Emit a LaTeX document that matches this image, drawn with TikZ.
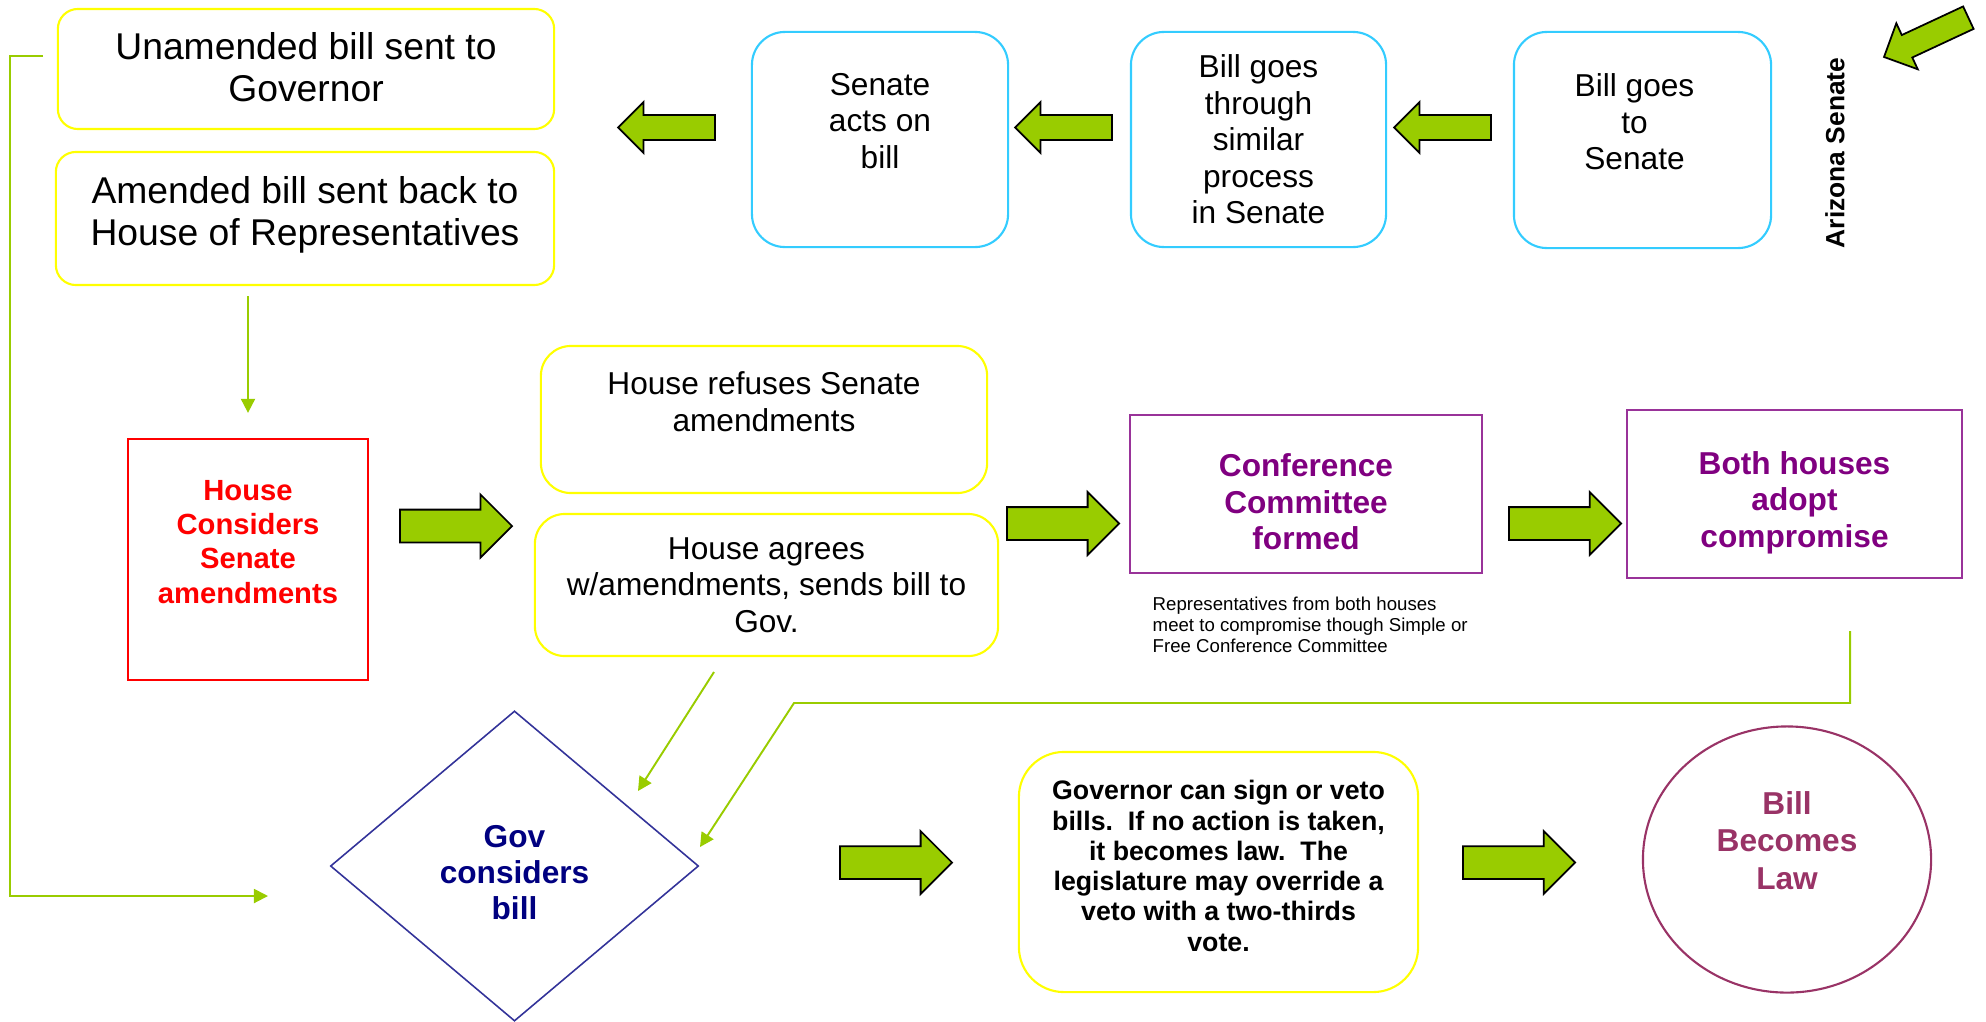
\documentclass[tikz,border=0pt]{standalone}
\usepackage{fontspec}
\setmainfont{Liberation Sans}
\usepackage{tikz}
\usepackage{xcolor}
\usetikzlibrary{arrows.meta,shapes.geometric,shapes.arrows}
\definecolor{lawgreen}{HTML}{99CC00}
\definecolor{boxyellow}{HTML}{FFFF00}
\definecolor{senblue}{HTML}{33CCFF}
\definecolor{confpurple}{HTML}{993399}
\definecolor{confword}{HTML}{800080}
\definecolor{govnavy}{HTML}{333399}
\definecolor{govword}{HTML}{000080}
\definecolor{lawplum}{HTML}{993366}
\tikzset{
  ybox/.style={draw=boxyellow,line width=0.6pt,rounded corners=0.3cm,inner sep=0pt},
  sbox/.style={draw=senblue,line width=0.6pt,rounded corners=0.33cm,inner sep=0pt},
  pbox/.style={draw=confpurple,line width=0.6pt,inner sep=0pt},
  link/.style={draw=lawgreen,line width=0.55pt,-{Triangle[length=0.14cm,width=0.14cm]}},
  garrow/.style={single arrow,draw=black,fill=lawgreen,line width=0.5pt,inner xsep=0pt,inner ysep=0.115cm,single arrow head extend=0.13cm,minimum height=0.97cm,outer sep=0pt,anchor=tip},
  bigarrow/.style={garrow,inner ysep=0.155cm,single arrow head extend=0.15cm,minimum height=1.12cm},
  bigtxt/.style={font=\fontsize{10.6}{12}\selectfont,align=center},
  midtxt/.style={font=\fontsize{9}{10.4}\selectfont,align=center},
  redtxt/.style={text=red,font=\bfseries\fontsize{8.3}{9.7}\selectfont,align=center},
  conftxt/.style={text=confword,font=\bfseries\fontsize{9}{10.4}\selectfont,align=center},
  govtxt/.style={font=\bfseries\fontsize{7.6}{8.6}\selectfont,align=center},
  lawtxt/.style={text=lawplum,font=\bfseries\fontsize{9}{10.7}\selectfont,align=center}
}

\begin{document}
\begin{tikzpicture}[x=0.01cm,y=-0.01cm]
\path[use as bounding box] (0,0) rectangle (1986,1021);
% Senate row
\node[ybox,rounded corners=0.2cm,minimum width=4.96cm,minimum height=1.2cm,label={[bigtxt,yshift=0.02cm]center:{Unamended bill sent to\\Governor}}] (unamended) at (306,69) {};
\node[ybox,rounded corners=0.2cm,minimum width=4.98cm,minimum height=1.33cm,label={[bigtxt,yshift=0.04cm]center:{Amended bill sent back to\\House of Representatives}}] (amended) at (305,218.5) {};
\node[sbox,minimum width=2.56cm,minimum height=2.15cm,label={[midtxt,yshift=0.185cm]center:{Senate\\acts on\\bill}}] (acts) at (880,139.5) {};
\node[sbox,midtxt,minimum width=2.55cm,minimum height=2.15cm] (through) at (1258.5,139.5) {Bill goes\\through\\similar\\process\\in Senate};
\node[sbox,minimum width=2.57cm,minimum height=2.16cm,label={[midtxt,yshift=0.18cm,xshift=-0.08cm]center:{Bill goes\\to\\Senate}}] (tosenate) at (1642.5,140) {};
\node[rotate=90,font=\bfseries\fontsize{7.5}{9}\selectfont] (azsenate) at (1835,153) {Arizona Senate};
\node[garrow,rotate=180] (ar1) at (618,127.5) {};
\node[garrow,rotate=180] (ar2) at (1015,127.5) {};
\node[garrow,rotate=180] (ar3) at (1394,127.5) {};
\node[garrow,rotate=205,minimum height=0.93cm] (ar4) at (1884,57) {};
%
% House row
\node[draw=red,line width=0.6pt,inner sep=0pt,minimum width=2.4cm,minimum height=2.41cm,label={[redtxt,yshift=0.175cm]center:{House\\Considers\\Senate\\amendments}}] (housecons) at (248,559.5) {};
\node[ybox,minimum width=4.46cm,minimum height=1.47cm,label={[midtxt,yshift=0.18cm]center:{House refuses Senate\\amendments}}] (refuses) at (764,419.5) {};
\node[ybox,midtxt,minimum width=4.63cm,minimum height=1.42cm] (agrees) at (766.5,585) {House agrees\\w/amendments, sends bill to\\Gov.};
\node[pbox,minimum width=3.52cm,minimum height=1.58cm,label={[conftxt,yshift=-0.08cm]center:{Conference\\Committee\\formed}}] (conf) at (1306,494) {};
\node[pbox,minimum width=3.35cm,minimum height=1.68cm,label={[conftxt,yshift=-0.085cm]center:{Both houses\\adopt\\compromise}}] (bothadopt) at (1794.5,494) {};
\node[anchor=north west,inner sep=0pt,align=left,font=\fontsize{5.3}{6}\selectfont] (confnote) at (1152,596) {Representatives from both houses\\meet to compromise though Simple or\\Free Conference Committee};
\node[bigarrow] (ba1) at (512,526) {};
\node[bigarrow] (ba2) at (1119,523.5) {};
\node[bigarrow] (ba3) at (1621,523.5) {};
%
% Governor row
\node[diamond,draw=govnavy,line width=0.45pt,inner sep=0pt,minimum width=3.68cm,minimum height=3.1cm,label={[text=govword,font=\bfseries\fontsize{9}{10.2}\selectfont,align=center,yshift=-0.065cm]center:{Gov\\considers\\bill}}] (gov) at (514.5,866) {};
\node[ybox,rounded corners=0.45cm,minimum width=3.99cm,minimum height=2.4cm,label={[govtxt,yshift=0.06cm]center:{Governor can sign or veto\\bills.\ \ If no action is taken,\\it becomes law.\ \ The\\legislature may override a\\veto with a two-thirds\\vote.}}] (govacts) at (1218.5,872) {};
\node[ellipse,draw=lawplum,line width=0.6pt,inner sep=0pt,minimum width=2.88cm,minimum height=2.66cm,label={[lawtxt,yshift=0.19cm]center:{Bill\\Becomes\\Law}}] (law) at (1787,859.5) {};
\node[bigarrow] (ba4) at (952,862.5) {};
\node[bigarrow] (ba5) at (1575,862.5) {};
%
% connectors
\coordinate (fbstart) at (43,56);
\coordinate (fbend) at (268,896);
\draw[link] (fbstart) -- ++(-33,0) |- (fbend);
\draw[link,shorten <=0.1cm,shorten >=0.25cm] (amended.south -| housecons.north) -- (housecons.north);
\coordinate (agtail) at (714,672);
\coordinate (govin) at (638,791);
\draw[link] (agtail) -- (govin);
\coordinate (bhtail) at (1850,631);
\coordinate (bhbend) at (794,703);
\coordinate (govin2) at (700,847);
\draw[link] (bhtail) |- (bhbend) -- (govin2);
\end{tikzpicture}
\end{document}
